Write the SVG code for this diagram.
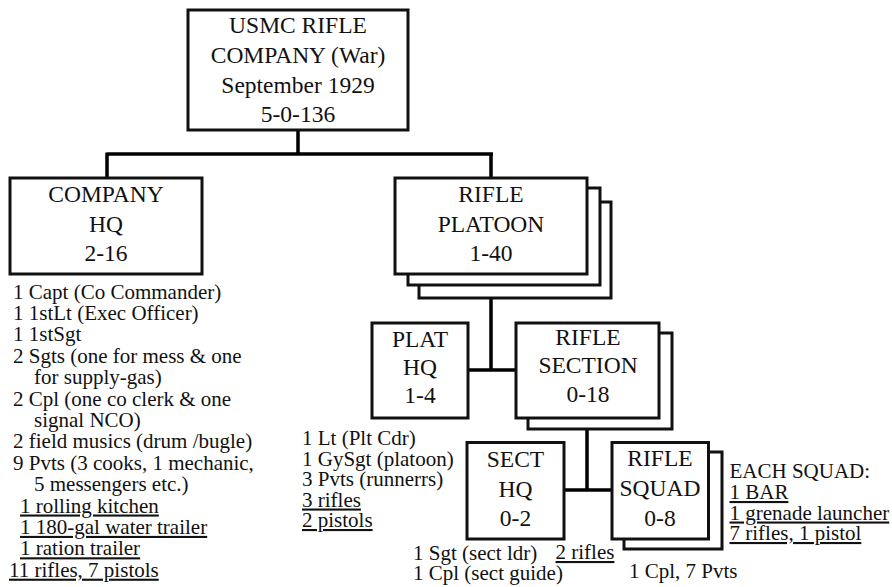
<svg xmlns="http://www.w3.org/2000/svg" width="892" height="587" viewBox="0 0 892 587" font-family="Liberation Serif, Tinos, Times New Roman, DejaVu Serif, serif">
<style>
.box{fill:#fff;stroke:#111;stroke-width:3}
.conn{fill:none;stroke:#000;stroke-width:3.5}
.t{font-family:'Liberation Serif','Tinos','Times New Roman','DejaVu Serif',serif;font-size:23.5px;fill:#111;text-anchor:middle}
.d{font-family:'Liberation Serif','Tinos','Times New Roman','DejaVu Serif',serif;font-size:21px;fill:#111}
.u{text-decoration:underline}
</style>
<rect width="892" height="587" fill="#fff"/>
<g id="connectors">
<path class="conn" d="M298 130V154M107 154H493M107 152.5V178M491 152.5V178"/>
<path class="conn" d="M491 298V370M468 370H516"/>
<path class="conn" d="M587 429V490M564 490H612"/>
</g>
<g id="company">
<rect class="box" x="188" y="10" width="220" height="120"/>
<text class="t" x="298" y="33">USMC RIFLE</text>
<text class="t" x="298" y="63">COMPANY (War)</text>
<text class="t" x="298" y="93">September 1929</text>
<text class="t" x="298" y="122">5-0-136</text>
</g>
<g id="company-hq">
<rect class="box" x="10" y="178" width="192" height="96"/>
<text class="t" x="106" y="202">COMPANY</text>
<text class="t" x="106" y="232">HQ</text>
<text class="t" x="106" y="261">2-16</text>
<text class="d" x="13" y="298.5">1 Capt (Co Commander)</text>
<text class="d" x="13" y="319.9">1 1stLt (Exec Officer)</text>
<text class="d" x="13" y="341.3">1 1stSgt</text>
<text class="d" x="13" y="362.7">2 Sgts (one for mess &amp; one</text>
<text class="d" x="34" y="384.1">for supply-gas)</text>
<text class="d" x="13" y="405.5">2 Cpl (one co clerk &amp; one</text>
<text class="d" x="34" y="426.9">signal NCO)</text>
<text class="d" x="13" y="448.3">2 field musics (drum /bugle)</text>
<text class="d" x="13" y="469.7">9 Pvts (3 cooks, 1 mechanic,</text>
<text class="d" x="34" y="491.1">5 messengers etc.)</text>
<text class="d u" x="20" y="512.5">1 rolling kitchen</text>
<text class="d u" x="20" y="533.9">1 180-gal water trailer</text>
<text class="d u" x="20" y="555.3">1 ration trailer</text>
<text class="d u" x="9" y="576.7">11 rifles, 7 pistols</text>
</g>
<g id="rifle-platoon">
<rect class="box" x="419" y="202" width="192" height="96"/>
<rect class="box" x="408" y="188" width="192" height="97"/>
<rect class="box" x="395" y="178" width="192" height="96"/>
<text class="t" x="491" y="202">RIFLE</text>
<text class="t" x="491" y="232">PLATOON</text>
<text class="t" x="491" y="261">1-40</text>
</g>
<g id="plat-hq">
<rect class="box" x="372" y="323" width="96" height="95"/>
<text class="t" x="420" y="347">PLAT</text>
<text class="t" x="420" y="375">HQ</text>
<text class="t" x="420" y="403">1-4</text>
<text class="d" x="302" y="445">1 Lt (Plt Cdr)</text>
<text class="d" x="302" y="465.5">1 GySgt (platoon)</text>
<text class="d" x="302" y="486">3 Pvts (runnerrs)</text>
<text class="d u" x="302" y="506.5">3 rifles</text>
<text class="d u" x="302" y="527">2 pistols</text>
</g>
<g id="rifle-section">
<rect class="box" x="528" y="333" width="144" height="96"/>
<rect class="box" x="516" y="323" width="143" height="95"/>
<text class="t" x="588" y="345">RIFLE</text>
<text class="t" x="588" y="373">SECTION</text>
<text class="t" x="588" y="402">0-18</text>
</g>
<g id="sect-hq">
<rect class="box" x="467" y="442.5" width="97" height="96.5"/>
<text class="t" x="515.5" y="467">SECT</text>
<text class="t" x="515.5" y="496.5">HQ</text>
<text class="t" x="515.5" y="525.5">0-2</text>
<text class="d" x="413" y="560">1 Sgt (sect ldr)</text>
<text class="d" x="413" y="580">1 Cpl (sect guide)</text>
<text class="d u" x="555.5" y="559">2 rifles</text>
</g>
<g id="rifle-squad">
<rect class="box" x="624" y="452" width="98" height="97"/>
<rect class="box" x="612" y="442.5" width="96.5" height="96.5"/>
<text class="t" x="660" y="466">RIFLE</text>
<text class="t" x="660" y="495.5">SQUAD</text>
<text class="t" x="660" y="525.5">0-8</text>
<text class="d" x="629" y="577.5">1 Cpl, 7 Pvts</text>
<text class="d" x="729.5" y="477.7">EACH SQUAD:</text>
<text class="d u" x="729.5" y="499">1 BAR</text>
<text class="d u" x="729.5" y="519.5">1 grenade launcher</text>
<text class="d u" x="729.5" y="540">7 rifles, 1 pistol</text>
</g>
</svg>
